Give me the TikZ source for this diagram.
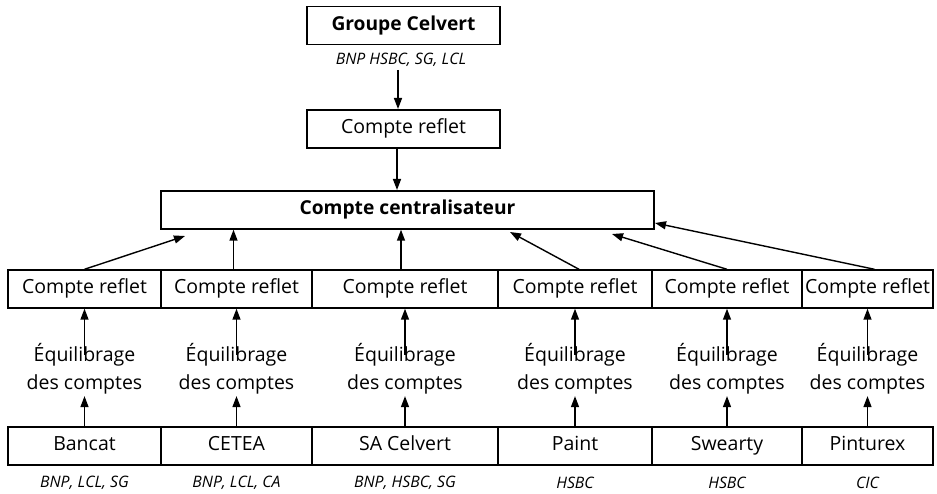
\documentclass[tikz,border=0pt]{standalone}
\usepackage{fontspec}
\setmainfont{Open Sans}
\usetikzlibrary{arrows.meta}
\begin{document}
\begin{tikzpicture}[x=1pt,y=-1pt,
  line width=1.4pt,
  cell/.style={draw,rectangle,inner sep=0pt,minimum height=38pt,
    text height=14pt,text depth=4.5pt,font=\fontsize{19.5}{22}\selectfont},
  boldcell/.style={cell,font=\fontsize{19.2}{22}\selectfont\bfseries},
  bank/.style={font=\fontsize{15.8}{18}\selectfont\itshape,inner sep=0pt},
  eqtext/.style={align=center,inner sep=0pt,font=\fontsize{19.5}{28}\selectfont},
  arr/.style={-{Triangle[length=11pt,width=8pt]},line width=1.4pt}]
\useasboundingbox (0,0) rectangle (937,494);

% top of the hierarchy
\node[boldcell,minimum width=193pt] (grp) at (403.5,25.5) {Groupe Celvert};
\node[bank] (grpbanks) at (401,60) {BNP HSBC, SG, LCL};
\node[cell,minimum width=193pt] (refl) at (403.5,129) {Compte reflet};
\node[boldcell,minimum width=493pt] (central) at (407.5,210) {Compte centralisateur};

\coordinate (g1) at (398,70);
\coordinate (g2) at (398,109);
\draw[arr] (g1) -- (g2);
\coordinate (c1) at (397,148);
\coordinate (c2) at (397,190);
\draw[arr] (c1) -- (c2);

% columns: centre and width
\foreach \i/\cx/\w/\name/\banks in {
  1/84.5/153/Bancat/{BNP, LCL, SG},
  2/236.5/151/CETEA/{BNP, LCL, CA},
  3/405/186/SA Celvert/{BNP, HSBC, SG},
  4/575/154/Paint/HSBC,
  5/727/150/Swearty/HSBC,
  6/867.5/131/Pinturex/CIC}{
  \node[cell,minimum width=\w pt] (r\i) at (\cx,289) {Compte reflet};
  \node[eqtext] (e\i) at (\cx,369) {Équilibrage\\des comptes};
  \node[cell,minimum width=\w pt] (b\i) at (\cx,446) {\name};
  \node[bank] (k\i) at (\cx,483) {\banks};
  \draw[arr] (b\i.north) -- ([yshift=-1pt]e\i.south);
  \draw[arr] ([yshift=-12pt]e\i.north) -- (r\i.south);
}

% links from each reflect account to the central account
\coordinate (t1) at (185,236);
\coordinate (t4) at (510,232);
\coordinate (t5) at (612,234);
\coordinate (t6) at (655,223);
\draw[arr] (r1.north) -- (t1);
\draw[arr] ([xshift=-3pt]r2.north) -- ([xshift=-3pt]r2.north |- central.south);
\draw[arr] ([xshift=-4pt]r3.north) -- ([xshift=-4pt]r3.north |- central.south);
\draw[arr] ([xshift=4pt]r4.north) -- (t4);
\draw[arr] (r5.north) -- (t5);
\draw[arr] ([xshift=7pt]r6.north) -- (t6);
\end{tikzpicture}
\end{document}
